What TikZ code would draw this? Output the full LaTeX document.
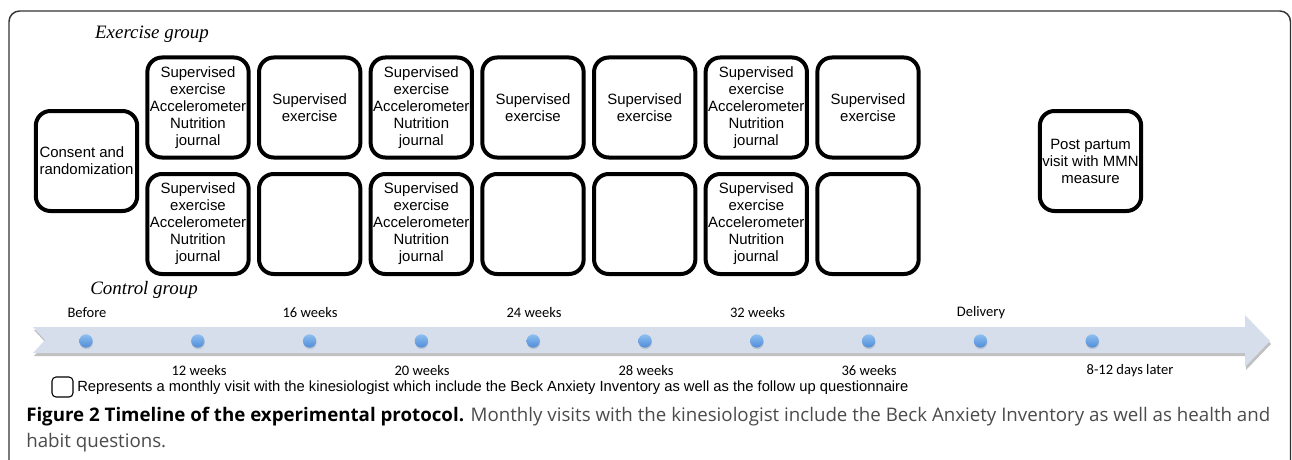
\documentclass[tikz,border=0pt]{standalone}
\usepackage{fontspec}
\setmainfont{Liberation Sans}
\newfontfamily\calfont{Carlito}
\newfontfamily\capfont{Open Sans}
\newfontfamily\grpfont{Liberation Serif}
\usetikzlibrary{shadows}
\definecolor{bandcol}{RGB}{214,222,236}
\definecolor{dotlight}{RGB}{140,190,240}
\definecolor{dotdark}{RGB}{80,140,215}
\definecolor{capgray}{RGB}{75,75,75}
\newsavebox\capbox
\tikzset{
  visit/.style={draw, line width=3pt, rounded corners=11pt, minimum width=76pt,
    minimum height=75pt, inner sep=0pt, align=center,
    font=\fontsize{11.2}{12.75}\selectfont},
  tdot/.style={circle, inner sep=0pt, minimum size=10pt, top color=dotlight,
    bottom color=dotdark, draw=none,
    drop shadow={shadow xshift=0.3pt, shadow yshift=-1.2pt, opacity=0.25}},
  tlabel/.style={font=\calfont\fontsize{10.9}{12}\selectfont, inner sep=0pt},
  grp/.style={font=\grpfont\itshape\fontsize{14.2}{16}\selectfont, inner sep=0pt},
  captxt/.style={anchor=west, inner sep=0pt},
}
\begin{document}
\sbox\capbox{\capfont\fontsize{13.8}{16}\selectfont{\bfseries Figure 2 Timeline of the experimental protocol.} {\color{capgray}Monthly visits with the kinesiologist include the Beck Anxiety Inventory as well as health and}}%
\pgfmathsetmacro\capscale{933/\wd\capbox}%
\begin{tikzpicture}[x=0.75pt,y=-0.75pt]
\useasboundingbox (0,0) rectangle (1292,460);
% outer frame
\draw[line width=1.1pt, black!80, rounded corners=8pt] (9,460) -- (9,11) -- (1290.5,11) -- (1290.5,460);
% group labels
\node[grp] (exg) at (152,34) {Exercise group};
\node[grp] (ctg) at (144,290) {Control group};
% consent and post partum
\node[visit, align=left] (consent) at (86.5,161) {Consent and\\randomization};
\node[visit] (post) at (1090.5,161) {Post partum\\visit with MMN\\measure};
% exercise row
\node[visit] (e1) at (198,107.5) {Supervised\\exercise\\Accelerometer\\Nutrition\\journal};
\node[visit] (e2) at (309.7,107.5) {Supervised\\exercise};
\node[visit] (e3) at (421.3,107.5) {Supervised\\exercise\\Accelerometer\\Nutrition\\journal};
\node[visit] (e4) at (533,107.5) {Supervised\\exercise};
\node[visit] (e5) at (644.7,107.5) {Supervised\\exercise};
\node[visit] (e6) at (756.3,107.5) {Supervised\\exercise\\Accelerometer\\Nutrition\\journal};
\node[visit] (e7) at (868,107.5) {Supervised\\exercise};
% control row
\node[visit] (c1) at (198,224) {Supervised\\exercise\\Accelerometer\\Nutrition\\journal};
\node[visit] (c2) at (309.7,224) {};
\node[visit] (c3) at (421.3,224) {Supervised\\exercise\\Accelerometer\\Nutrition\\journal};
\node[visit] (c4) at (533,224) {};
\node[visit] (c5) at (644.7,224) {};
\node[visit] (c6) at (756.3,224) {Supervised\\exercise\\Accelerometer\\Nutrition\\journal};
\node[visit] (c7) at (868,224) {};
% timeline band
\fill[black!45, opacity=0.55] (34,330) -- (1246,330) -- (1246,318) -- (1271,344) -- (1246,370) -- (1246,356) -- (34,356) -- (46,343) -- cycle;
\fill[bandcol] (33,327) -- (1245,327) -- (1245,315) -- (1270,341) -- (1245,367) -- (1245,353) -- (33,353) -- (45,340) -- cycle;
% dots
\foreach \i in {0,...,9} {
  \node[tdot] (d\i) at ({86+111.8*\i},341) {};
}
% labels above
\node[tlabel] (lbefore) at (87,313) {Before};
\node[tlabel] (l16) at (310,313) {16 weeks};
\node[tlabel] (l24) at (534,313) {24 weeks};
\node[tlabel] (l32) at (757.5,313) {32 weeks};
\node[tlabel] (ldel) at (981,313) {Delivery};
% labels below
\node[tlabel] (l12) at (199,371) {12 weeks};
\node[tlabel] (l20) at (422,371) {20 weeks};
\node[tlabel] (l28) at (646,371) {28 weeks};
\node[tlabel] (l36) at (869,371) {36 weeks};
\node[tlabel] (lpp) at (1130,371) {8-12 days later};
% legend
\node[draw, line width=0.8pt, rounded corners=3pt, minimum width=15.75pt, minimum height=15pt, inner sep=0pt] (legbox) at (62.5,387) {};
\node[anchor=west, inner sep=0pt, font=\fontsize{11.05}{12}\selectfont] (legtext) at (77,388) {Represents a monthly visit with the kinesiologist which include the Beck Anxiety Inventory as well as the follow up questionnaire};
% caption
\node[captxt] (cap1) at (26,417) {\scalebox{\capscale}{\usebox\capbox}};
\node[captxt, text=capgray] (cap2) at (26,443) {\scalebox{\capscale}{\capfont\fontsize{13.8}{16}\selectfont habit questions.}};
\end{tikzpicture}
\end{document}
